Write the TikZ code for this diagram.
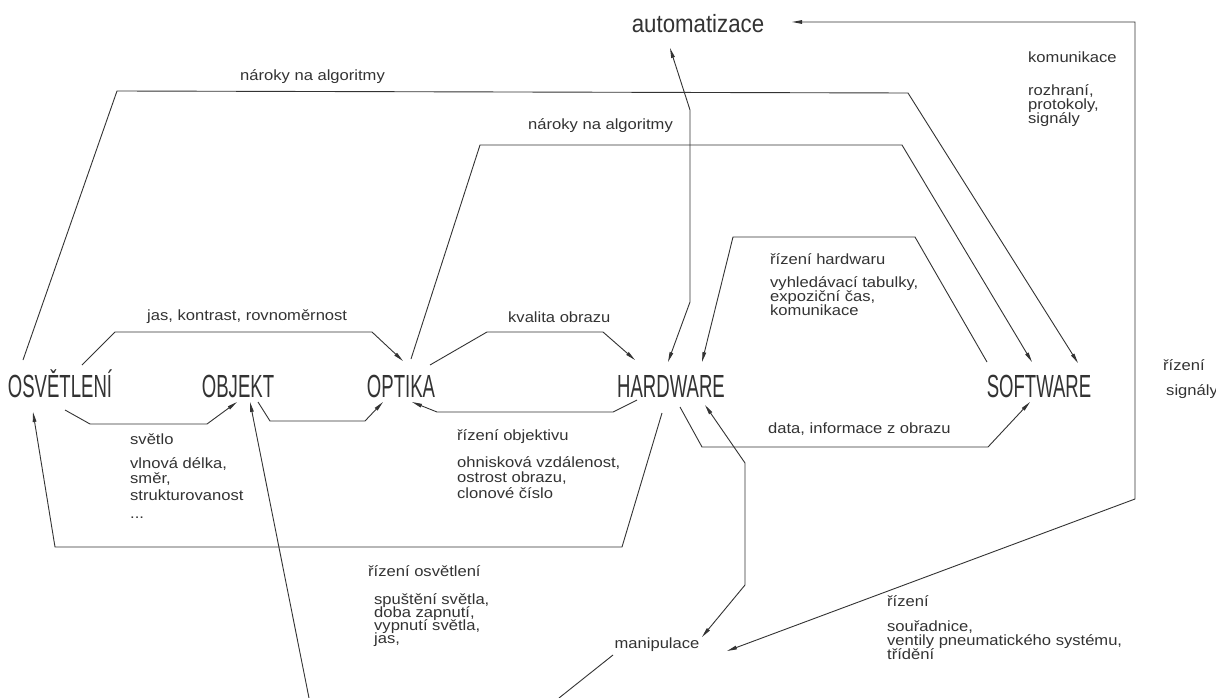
\documentclass[tikz,border=0pt]{standalone}
\usepackage{fontspec}
\setmainfont{Liberation Sans}
\newfontfamily\smallfont[FakeStretch=1.12]{Liberation Sans}
\newfontfamily\bigfont[FakeStretch=0.58]{Liberation Sans}
\newfontfamily\midfont[FakeStretch=0.89]{Liberation Sans}
\usetikzlibrary{arrows.meta}
\begin{document}
\begin{tikzpicture}[x=1pt,y=-1pt,
  lab/.style={inner sep=0pt, anchor=base west, text=black!80, font=\smallfont\fontsize{14.8}{16}\selectfont},
  big/.style={inner sep=0pt, anchor=base, text=black!80, font=\bigfont\fontsize{32}{36}\selectfont},
  mid/.style={inner sep=0pt, anchor=base, text=black!80, font=\midfont\fontsize{25}{28}\selectfont},
  con/.style={draw=black!80, line width=0.9pt, line join=miter},
  arr/.style={con, -{Triangle[length=10pt,width=3.6pt]}},
  darr/.style={con, {Triangle[length=10pt,width=3.6pt]}-{Triangle[length=10pt,width=3.6pt]}}]
\useasboundingbox[fill=white] (0,0) rectangle (1216,698);

% main nodes
\node[big] (osv) at (60,397) {OSVĚTLENÍ};
\node[big] (obj) at (238,397) {OBJEKT};
\node[big] (opt) at (401,397) {OPTIKA};
\node[big] (hw) at (671,397) {HARDWARE};
\node[big] (sw) at (1039,397) {SOFTWARE};
\node[mid] (aut) at (698,33) {automatizace};
\node[lab, anchor=base] (man) at (657,648) {manipulace};

% connectors
\draw[arr] ([shift={(-37,-37)}]osv.base) -- (117,91) -- (908,93) -- ([shift={(39,-34)}]sw.base);
\draw[arr] ([shift={(10,-38)}]opt.base) -- (480,145) -- (902,145) -- ([shift={(-7,-35)}]sw.base);
\draw[arr] ([shift={(22,-32)}]osv.base) -- (115,332) -- (372,332) -- ([shift={(2,-36)}]opt.base);
\draw[arr] ([shift={(5,13)}]osv.base) -- (90,424) -- (207,424) -- ([shift={(-1,5)}]obj.base);
\draw[arr] ([shift={(20,5)}]obj.base) -- (270,421) -- (365,421) -- ([shift={(-18,5)}]opt.base);
\draw[arr] ([shift={(29,-32)}]opt.base) -- (487,332) -- (603,332) -- ([shift={(-36,-37)}]hw.base);
\draw[arr] ([shift={(-34,3)}]hw.base) -- (613,412) -- (437,412) -- ([shift={(11,5)}]opt.base);
\draw[arr] ([shift={(-9,16)}]hw.base) -- (622,547) -- (55,547) -- ([shift={(-27,15)}]osv.base);
\draw[arr] ([shift={(9,10)}]hw.base) -- (702,447) -- (988,447) -- ([shift={(-9,5)}]sw.base);
\draw[arr] ([shift={(-52,-35)}]sw.base) -- (915,237) -- (733,237) -- ([shift={(31,-35)}]hw.base);
\draw[darr] ([shift={(-28,15)}]aut.base) -- (690,110) -- (690,302) -- ([shift={(-3,-35)}]hw.base);
\draw[darr] ([shift={(94,-11)}]aut.base) -- (1135,22) -- (1135,499) -- ([shift={(70,3)}]man.base);
\draw[darr] ([shift={(34,8)}]hw.base) -- (745,463) -- (745,585) -- ([shift={(45,-11)}]man.base);
\coordinate (b1) at (309,698);
\draw[arr] (b1) -- ([shift={(12,5)}]obj.base);
\coordinate (b2) at (559,698);
\draw[con] (b2) -- ([shift={(-44,7)}]man.base);

% labels
\node[lab] (l1) at (240,81) {nároky na algoritmy};
\node[lab] (l2) at (528,130) {nároky na algoritmy};
\node[lab] (l3) at (147,320) {jas, kontrast, rovnoměrnost};
\node[lab] (l4) at (508,322) {kvalita obrazu};
\node[lab] (h1) at (770,264) {řízení hardwaru};
\node[lab] (h2) at (770,287) {vyhledávací tabulky,};
\node[lab] (h3) at (770,301) {expoziční čas,};
\node[lab] (h4) at (770,315) {komunikace};
\node[lab] (k1) at (1028,63) {komunikace};
\node[lab] (k2) at (1028,96) {rozhraní,};
\node[lab] (k3) at (1028,110) {protokoly,};
\node[lab] (k4) at (1028,124) {signály};
\node[lab] (r1) at (1163,370) {řízení};
\node[lab] (r2) at (1166,395) {signály};
\node[lab] (s1) at (130,444) {světlo};
\node[lab] (s2) at (130,468) {vlnová délka,};
\node[lab] (s3) at (130,483) {směr,};
\node[lab] (s4) at (130,500) {strukturovanost};
\node[lab] (s5) at (130,518) {...};
\node[lab] (o1) at (457,440) {řízení objektivu};
\node[lab] (o2) at (457,467) {ohnisková vzdálenost,};
\node[lab] (o3) at (457,482) {ostrost obrazu,};
\node[lab] (o4) at (457,498) {clonové číslo};
\node[lab] (d1) at (768,433) {data, informace z obrazu};
\node[lab] (v1) at (368,576) {řízení osvětlení};
\node[lab] (v2) at (374,604) {spuštění světla,};
\node[lab] (v3) at (374,617) {doba zapnutí,};
\node[lab] (v4) at (374,630) {vypnutí světla,};
\node[lab] (v5) at (374,643) {jas,};
\node[lab] (m1) at (887,606) {řízení};
\node[lab] (m2) at (887,631) {souřadnice,};
\node[lab] (m3) at (887,645) {ventily pneumatického systému,};
\node[lab] (m4) at (887,659) {třídění};
\end{tikzpicture}
\end{document}
